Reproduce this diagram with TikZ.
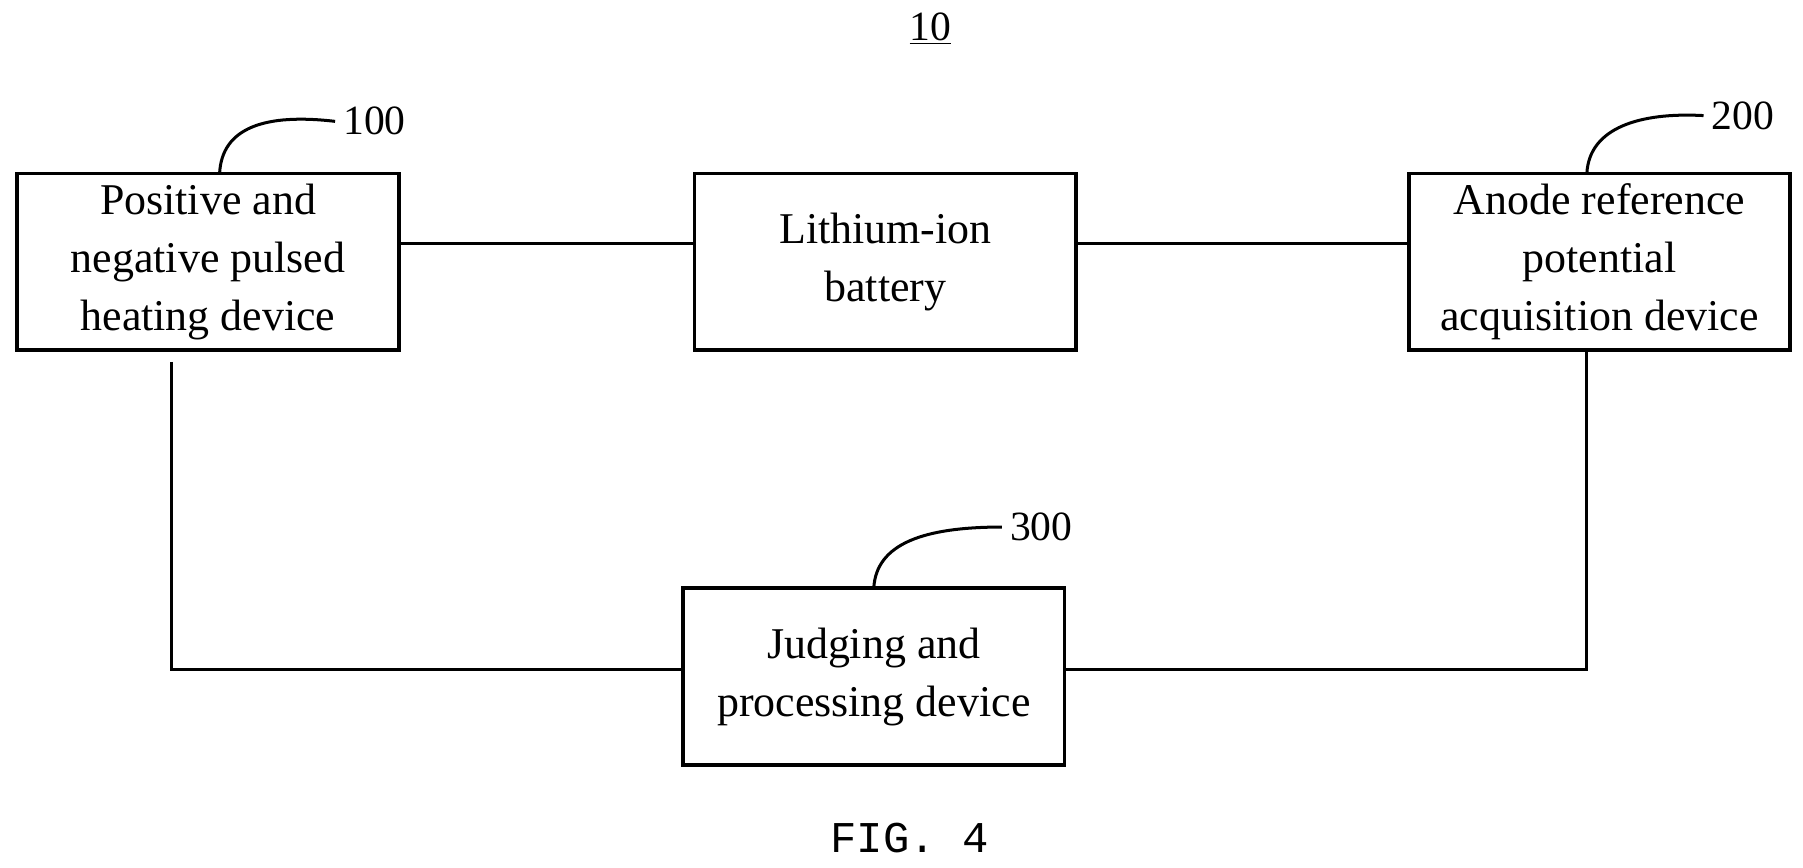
\documentclass[tikz,border=0pt]{standalone}
\usepackage{fontspec}
\setmainfont{Liberation Serif}
\setmonofont{Liberation Mono}
\begin{document}
\begin{tikzpicture}[x=0.5pt,y=-0.5pt,
  box/.style={draw,line width=1.6pt,minimum width=165pt,minimum height=76.5pt,align=center,font=\fontsize{19}{25}\selectfont,inner sep=0pt},
  ln/.style={line width=1.3pt},
  num/.style={font=\fontsize{18}{20}\selectfont}]
\useasboundingbox (0,0) rectangle (1560,751);
\node[box] (a) at (180,226.5) {Positive and\\negative pulsed\\heating device};
\node[box] (b) at (766,226.5) {Lithium-ion\\battery};
\node[box] (c) at (1384,226.5) {Anode reference\\potential\\acquisition device};
\node[box] (d) at (756,585.5) {Judging and\\processing device};
\coordinate (a1) at (148,313);
\coordinate (a2) at (148,579);
\coordinate (c1) at (1373,579);
\draw[ln] (a.east|-0,211) -- (b.west|-0,211);
\draw[ln] (b.east|-0,211) -- (c.west|-0,211);
\draw[ln] (a1) -- (a2) -- (d.west|-a2);
\draw[ln] (c.south-|c1) -- (c1) -- (d.east|-c1);
\node[num] (n1) at (324,105) {100};
\node[num] (n2) at (1508,100) {200};
\node[num] (n3) at (901,456) {300};
\draw[ln] (190,150) .. controls (192,110) and (230,98) .. (n1.west);
\draw[ln] (1373,150) .. controls (1375,110) and (1420,97) .. (n2.west);
\draw[ln] (756,509) .. controls (758,470) and (800,456) .. (n3.west);
\node[font=\fontsize{18}{20}\selectfont] (t) at (805,25) {\underline{10}};
\node[font=\ttfamily\fontsize{19}{20}\selectfont] (f) at (787,725) {FIG. 4};
\end{tikzpicture}
\end{document}
